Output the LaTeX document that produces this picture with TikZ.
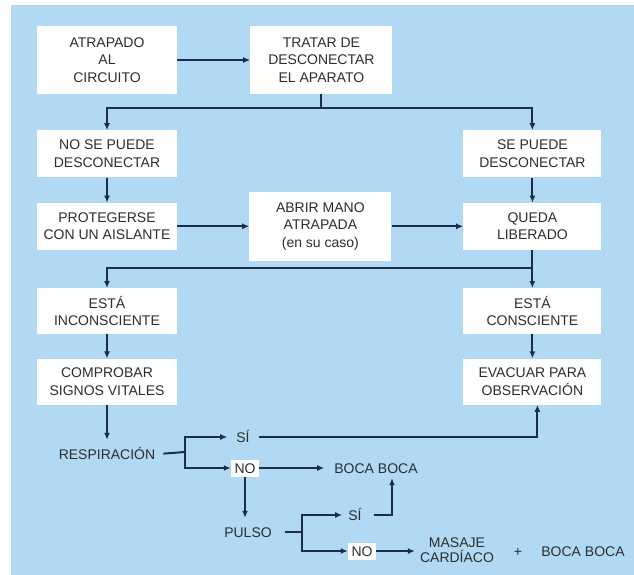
\documentclass[tikz,border=0pt]{standalone}
\usepackage{fontspec}
\setmainfont{Liberation Sans}
\usepackage{tikz}
\usetikzlibrary{arrows.meta}
\usetikzlibrary{positioning, calc}

\definecolor{fondo}{RGB}{178,217,243}
\definecolor{trazocol}{RGB}{30,45,70}
\definecolor{textocol}{RGB}{45,45,45}

\begin{document}
\begin{tikzpicture}[x=1pt, y=-1pt]
		\tikzstyle{caja}=[rectangle, fill=white, align=center, inner sep=2pt, minimum height=47pt, text=textocol, font=\fontsize{14}{17.5}\selectfont]
		\tikzstyle{izq}=[caja, minimum width=140pt]
		\tikzstyle{der}=[caja, minimum width=138pt]
		\tikzstyle{centro}=[caja, minimum width=142pt, minimum height=68pt]
		\tikzstyle{etiqueta}=[inner sep=3pt, text height=10pt, text depth=0pt, text=textocol, font=\fontsize{14}{15}\selectfont]
		\tikzstyle{tag}=[etiqueta, fill=white, inner xsep=3.5pt, inner ysep=3.5pt]
		\tikzstyle{trazo}=[line width=2pt, draw=trazocol]
		\tikzstyle{connect}=[trazo, -{Latex[length=7pt,width=6pt]}]
		\useasboundingbox (0,0) rectangle (634,575);
		\fill[fondo] (11,5) rectangle (634,575);
		% cajas
		\node[izq, minimum height=68pt] (atrapado) at (107,60) {ATRAPADO\\AL\\CIRCUITO};
		\node[centro] (tratar) [right=73pt of atrapado] {TRATAR DE\\DESCONECTAR\\EL APARATO};
		\node[izq] (nopuede) [below=36pt of atrapado] {NO SE PUEDE\\DESCONECTAR};
		\node[der] (sepuede) [right=286pt of nopuede] {SE PUEDE\\DESCONECTAR};
		\node[izq] (protegerse) [below=25pt of nopuede] {PROTEGERSE\\CON UN AISLANTE};
		\node[centro, minimum height=69pt] (abrir) [right=72pt of protegerse] {ABRIR MANO\\ATRAPADA\\(en su caso)};
		\node[der] (queda) [below=25pt of sepuede] {QUEDA\\LIBERADO};
		\node[izq, minimum height=46pt] (inconsciente) [below=38pt of protegerse] {ESTÁ\\INCONSCIENTE};
		\node[der, minimum height=46pt] (consciente) [below=38pt of queda] {ESTÁ\\CONSCIENTE};
		\node[izq, minimum height=46pt] (comprobar) [below=24pt of inconsciente] {COMPROBAR\\SIGNOS VITALES};
		\node[der, minimum height=46pt] (evacuar) [below=24pt of consciente] {EVACUAR PARA\\OBSERVACIÓN};
		% parte de abajo
		\node[etiqueta] (respiracion) [below=41pt of comprobar] {RESPIRACIÓN};
		\node[etiqueta] (si1) at (243,437) {SÍ};
		\node[tag] (no1) at (245,468) {NO};
		\node[etiqueta] (boca1) at (376,468) {BOCA BOCA};
		\node[etiqueta] (pulso) at (248,532) {PULSO};
		\node[etiqueta] (si2) at (355,515) {SÍ};
		\node[tag] (no2) at (362,551) {NO};
		\node[etiqueta, text height=, text depth=, align=center, inner sep=2pt] (masaje) at (457,550) {MASAJE\\CARDÍACO};
		\node[etiqueta] (mas) at (518,551) {+};
		\node[etiqueta] (boca2) at (583,551) {BOCA BOCA};
		\coordinate (split1) at ($(tratar.south |- 0,108)$);
		\coordinate (split2) at ($(queda.south |- 0,268)$);
		\coordinate (fork1) at (185,452);
		\coordinate (fork2) at (302,532);
		\coordinate (bocain) at ([xshift=16pt]boca1.south);
		\coordinate (evacin) at ([xshift=5pt]evacuar.south);
		\path
		(atrapado) edge [connect] (tratar)
		(nopuede) edge [connect] (protegerse)
		(sepuede) edge [connect] (queda)
		(protegerse) edge [connect] (abrir)
		(abrir) edge [connect] (queda)
		(queda) edge [connect] (consciente)
		(inconsciente) edge [connect] (comprobar)
		(consciente) edge [connect] (evacuar)
		(comprobar) edge [connect, shorten >=6pt] (respiracion)
		(no1) edge [connect, shorten >=7pt] (boca1)
		(no2) edge [connect, shorten >=3pt] (no2 -| masaje.west)
		;
		\draw[trazo] (tratar.south) -- (split1);
		\draw[connect] (split1) -| (nopuede.north);
		\draw[connect] (split1) -| (sepuede.north);
		\draw[connect] (split2) -| (inconsciente.north);
		\draw[trazo, shorten <=5pt] (respiracion.east) -- (fork1);
		\draw[connect, shorten >=6pt] (fork1) |- (si1.west);
		\draw[connect] (fork1) |- (no1.west);
		\draw[connect, shorten <=6pt] (si1.east) -| (evacin);
		\draw[connect, shorten >=6pt] (no1.south) -- (no1.south |- pulso.north);
		\draw[trazo, shorten <=10pt] (pulso.east) -- (fork2);
		\draw[connect, shorten >=3pt] (fork2) |- (si2.west);
		\draw[connect] (fork2) |- (no2.west);
		\draw[connect, shorten <=9pt, shorten >=2pt] (si2.east) -| (bocain);
	\end{tikzpicture}
\end{document}
